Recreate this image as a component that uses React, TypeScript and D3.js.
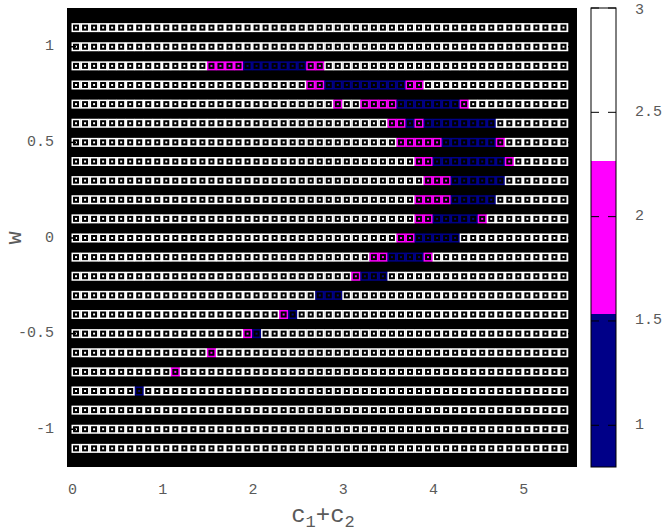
import React, { useEffect, useRef } from 'react';
import * as d3 from 'd3';

// cell centres along c1+c2
const cValues = [
  0.04, 0.14, 0.24, 0.34, 0.44, 0.54, 0.64, 0.74, 0.84, 0.94,
  1.04, 1.14, 1.24, 1.34, 1.44, 1.54, 1.64, 1.74, 1.84, 1.94,
  2.04, 2.14, 2.24, 2.34, 2.44, 2.54, 2.64, 2.74, 2.84, 2.94,
  3.04, 3.14, 3.24, 3.34, 3.44, 3.54, 3.64, 3.74, 3.84, 3.94,
  4.04, 4.14, 4.24, 4.34, 4.44, 4.54, 4.64, 4.74, 4.84, 4.94,
  5.04, 5.14, 5.24, 5.34, 5.44,
];

// rows, top to bottom
const wValues = [
  1.1, 1.0, 0.9, 0.8, 0.7, 0.6, 0.5, 0.4, 0.3, 0.2, 0.1, 0.0,
  -0.1, -0.2, -0.3, -0.4, -0.5, -0.6, -0.7, -0.8, -0.9, -1.0, -1.1,
];

// one string per row, one digit per cell (1, 2 or 3), grouped by five
const rowCodes = [
  '33333 33333 33333 33333 33333 33333 33333 33333 33333 33333 33333',
  '33333 33333 33333 33333 33333 33333 33333 33333 33333 33333 33333',
  '33333 33333 33333 22221 11111 12233 33333 33333 33333 33333 33333',
  '33333 33333 33333 33333 33333 32211 11111 11223 33333 33333 33333',
  '33333 33333 33333 33333 33333 33332 33222 21111 11123 33333 33333',
  '33333 33333 33333 33333 33333 33333 33333 22121 11111 11333 33333',
  '33333 33333 33333 33333 33333 33333 33333 32222 21111 11233 33333',
  '33333 33333 33333 33333 33333 33333 33333 33322 11111 11123 33333',
  '33333 33333 33333 33333 33333 33333 33333 33332 22111 11133 33333',
  '33333 33333 33333 33333 33333 33333 33333 33322 22111 11333 33333',
  '33333 33333 33333 33333 33333 33333 33333 33322 11111 23333 33333',
  '33333 33333 33333 33333 33333 33333 33333 32211 11133 33333 33333',
  '33333 33333 33333 33333 33333 33333 33322 11112 33333 33333 33333',
  '33333 33333 33333 33333 33333 33333 32111 33333 33333 33333 33333',
  '33333 33333 33333 33333 33333 33111 33333 33333 33333 33333 33333',
  '33333 33333 33333 33333 33321 33333 33333 33333 33333 33333 33333',
  '33333 33333 33333 33332 13333 33333 33333 33333 33333 33333 33333',
  '33333 33333 33333 23333 33333 33333 33333 33333 33333 33333 33333',
  '33333 33333 32333 33333 33333 33333 33333 33333 33333 33333 33333',
  '33333 33133 33333 33333 33333 33333 33333 33333 33333 33333 33333',
  '33333 33333 33333 33333 33333 33333 33333 33333 33333 33333 33333',
  '33333 33333 33333 33333 33333 33333 33333 33333 33333 33333 33333',
  '33333 33333 33333 33333 33333 33333 33333 33333 33333 33333 33333',
];

const xTicks = [0, 1, 2, 3, 4, 5];
const yTicks = [-1, -0.5, 0, 0.5, 1];
const cbTicks = [1, 1.5, 2, 2.5, 3];
const paletteColors = ['#000088', '#ff00ff', '#ffffff'];

const W = 663;
const H = 531;
const FONT = "'Liberation Mono', 'DejaVu Sans Mono', monospace";
const TEXT = '#5a5a5a';

export default function App() {
  const svgRef = useRef<SVGSVGElement>(null);

  useEffect(() => {
    if (!svgRef.current) return;
    const svg = d3.select(svgRef.current);
    svg.selectAll('*').remove();

    const plot = { left: 67, right: 577, top: 8, bottom: 467 };

    const x = d3.scaleLinear().domain([-0.06, 5.59]).range([plot.left, plot.right]);
    const y = d3.scaleLinear().domain([-1.2, 1.2]).range([plot.bottom + 0.5, plot.top + 0.5]);
    const color = d3.scaleQuantize<string>().domain([0.8, 3]).range(paletteColors);

    // black background
    svg.append('rect')
      .attr('x', plot.left)
      .attr('y', plot.top)
      .attr('width', plot.right - plot.left)
      .attr('height', plot.bottom - plot.top)
      .attr('fill', '#000');

    const cellW = x(0.1) - x(0);
    const cellH = 9;

    const cells: { c: number; w: number; v: number }[] = [];
    rowCodes.forEach((code, r) => {
      code.replace(/ /g, '').split('').forEach((ch, k) => {
        cells.push({ c: cValues[k], w: wValues[r], v: +ch });
      });
    });

    const g = svg.append('g');
    g.selectAll('rect.cell')
      .data(cells)
      .enter()
      .append('rect')
      .attr('class', 'cell')
      .attr('x', d => x(d.c) - cellW / 2)
      .attr('y', d => y(d.w) - cellH / 2)
      .attr('width', cellW + 0.3)
      .attr('height', cellH)
      .attr('fill', d => color(d.v));

    // hollow square marker on each cell
    g.selectAll('rect.mark')
      .data(cells)
      .enter()
      .append('rect')
      .attr('class', 'mark')
      .attr('x', d => x(d.c) - 2)
      .attr('y', d => y(d.w) - 2)
      .attr('width', 4)
      .attr('height', 4)
      .attr('fill', 'none')
      .attr('stroke', '#000')
      .attr('stroke-width', 2);

    // ticks (inward, black)
    const tickLen = 9;
    yTicks.forEach(t => {
      svg.append('line')
        .attr('x1', plot.left).attr('x2', plot.left + tickLen)
        .attr('y1', y(t)).attr('y2', y(t))
        .attr('stroke', '#000').attr('stroke-width', 1.5);
      svg.append('line')
        .attr('x1', plot.right - tickLen).attr('x2', plot.right)
        .attr('y1', y(t)).attr('y2', y(t))
        .attr('stroke', '#000').attr('stroke-width', 1.5);
      svg.append('text')
        .attr('x', 54)
        .attr('y', y(t))
        .attr('dominant-baseline', 'central')
        .attr('text-anchor', 'end')
        .attr('font-family', FONT)
        .attr('font-size', 15)
        .attr('fill', TEXT)
        .text(String(t));
    });

    xTicks.forEach(t => {
      svg.append('text')
        .attr('x', x(t))
        .attr('y', 490)
        .attr('dominant-baseline', 'central')
        .attr('text-anchor', 'middle')
        .attr('font-family', FONT)
        .attr('font-size', 15)
        .attr('fill', TEXT)
        .text(String(t));
    });

    // axis labels
    svg.append('text')
      .attr('transform', `translate(15,${y(0)}) rotate(-90)`)
      .attr('text-anchor', 'middle')
      .attr('dominant-baseline', 'central')
      .attr('font-family', FONT)
      .attr('font-size', 22)
      .attr('fill', TEXT)
      .text('w');

    const xl = svg.append('text')
      .attr('x', 323)
      .attr('y', 522)
      .attr('text-anchor', 'middle')
      .attr('font-family', FONT)
      .attr('font-size', 24)
      .attr('fill', TEXT);
    xl.append('tspan').text('c');
    xl.append('tspan').attr('dy', 5).attr('font-size', 17).text('1');
    xl.append('tspan').attr('dy', -5).text('+c');
    xl.append('tspan').attr('dy', 5).attr('font-size', 17).text('2');

    // colour box
    const cb = { left: 591, right: 616 };
    const cy = d3.scaleLinear().domain([0.8, 3]).range([plot.bottom, plot.top]);
    paletteColors.forEach(col => {
      const [lo, hi] = color.invertExtent(col);
      svg.append('rect')
        .attr('x', cb.left)
        .attr('y', cy(hi))
        .attr('width', cb.right - cb.left)
        .attr('height', cy(lo) - cy(hi))
        .attr('fill', col);
    });
    svg.append('rect')
      .attr('x', cb.left)
      .attr('y', plot.top)
      .attr('width', cb.right - cb.left)
      .attr('height', plot.bottom - plot.top)
      .attr('fill', 'none')
      .attr('stroke', '#000')
      .attr('stroke-width', 1);

    cbTicks.forEach(t => {
      svg.append('line')
        .attr('x1', cb.left).attr('x2', cb.left + 8)
        .attr('y1', cy(t)).attr('y2', cy(t))
        .attr('stroke', '#000').attr('stroke-width', 1);
      svg.append('line')
        .attr('x1', cb.right - 8).attr('x2', cb.right)
        .attr('y1', cy(t)).attr('y2', cy(t))
        .attr('stroke', '#000').attr('stroke-width', 1);
      svg.append('text')
        .attr('x', 635)
        .attr('y', cy(t) + (t === 3 ? 2 : 0))
        .attr('dominant-baseline', 'central')
        .attr('font-family', FONT)
        .attr('font-size', 15)
        .attr('fill', TEXT)
        .text(String(t));
    });
  }, []);

  return (
    <svg
      ref={svgRef}
      width={W}
      height={H}
      style={{ position: 'absolute', left: 0, top: 0, background: '#fff' }}
    />
  );
}
